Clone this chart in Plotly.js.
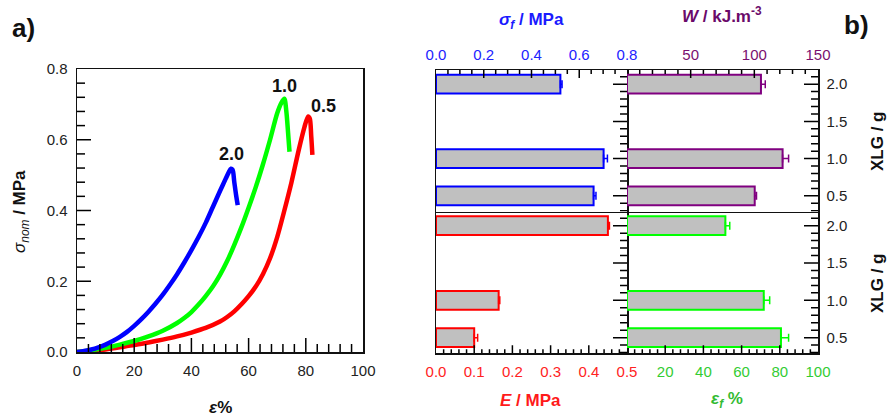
<!DOCTYPE html>
<html>
<head>
<meta charset="utf-8">
<script src="https://cdn.plot.ly/plotly-3.0.1.min.js"></script>
<style>html,body{margin:0;padding:0;background:#fff;}#chart{width:890px;height:417px;}</style>
</head>
<body>
<div id="chart"></div>
<script>
// ---- Panel a): nominal stress-strain curves ----
const strain20 = [0, 2.5, 5, 7.5, 10, 12.5, 15, 17.5, 20, 22.5, 25, 27.5, 30, 32.5, 35, 37.5, 40, 42.5, 45, 47.5, 50, 52, 53, 53.8, 54.4, 55, 55.6, 56.2];
const stress20 = [0, 0.003, 0.007, 0.013, 0.021, 0.031, 0.043, 0.057, 0.074, 0.093, 0.114, 0.137, 0.162, 0.19, 0.22, 0.253, 0.288, 0.325, 0.365, 0.41, 0.455, 0.49, 0.507, 0.518, 0.515, 0.48, 0.445, 0.415];
const strain10 = [0, 5, 10, 15, 20, 25, 30, 35, 37.5, 40, 42.5, 45, 47.5, 50, 52.5, 55, 57.5, 60, 62.5, 65, 67.5, 70, 71.5, 72.5, 73.2, 73.8, 74.3];
const stress10 = [0, 0.005, 0.012, 0.021, 0.031, 0.044, 0.06, 0.082, 0.096, 0.113, 0.134, 0.158, 0.185, 0.218, 0.257, 0.303, 0.353, 0.408, 0.466, 0.53, 0.6, 0.675, 0.705, 0.716, 0.68, 0.62, 0.566];
const strain05 = [0, 5, 10, 15, 20, 25, 30, 35, 40, 45, 50, 52.5, 55, 57.5, 60, 62.5, 65, 67.5, 70, 72.5, 75, 77.5, 79.5, 80.8, 81.4, 81.9, 82.3];
const stress05 = [0, 0.003, 0.007, 0.013, 0.02, 0.027, 0.035, 0.044, 0.055, 0.068, 0.086, 0.099, 0.115, 0.135, 0.158, 0.185, 0.22, 0.265, 0.325, 0.4, 0.48, 0.57, 0.635, 0.666, 0.66, 0.61, 0.557];
const curveLabels = ["2.0", "1.0", "0.5"];
const curveLabelX = [54.1, 72.5, 86.1];
const curveLabelY = [0.56, 0.752, 0.695];

// ---- Panel b): bar data ----
const xlg = [0.5, 1.0, 2.0];
const sigmaF = [0.66, 0.702, 0.521];
const sigmaFErr = [0.01, 0.016, 0.007];
const workW = [100.3, 122.2, 105.2];
const workWErr = [1.4, 4.7, 3.4];
const modulusE = [0.10, 0.164, 0.45];
const modulusEErr = [0.009, 0.003, 0.004];
const strainF = [80.6, 71.6, 51.5];
const strainFErr = [4.0, 3.1, 2.3];

const C_BLUE = '#0000ff', C_PURPLE = '#800080', C_RED = '#ff0000', C_GREEN = '#00ff00';
const AX = '#111';
const FONT = 'Liberation Sans, Arial, sans-serif';
const W = 890, H = 417;

// axis ranges
const rA_x = [0, 100], rA_y = [0, 0.8];
const rSig = [0, 0.8], rW = [0, 150], rE = [0, 0.5], rEps = [0, 100];
const yRange = [0.29, 2.19];

function curve(x, y, color) {
  return {x: x, y: y, xaxis: 'x', yaxis: 'y', type: 'scatter', mode: 'lines',
    line: {color: color, width: 4.5, shape: 'spline', smoothing: 0.8}, hoverinfo: 'skip'};
}
function bars(vals, errs, color, xa, ya) {
  return {type: 'bar', orientation: 'h', x: vals, y: xlg, xaxis: xa, yaxis: ya, width: 0.25,
    marker: {color: '#c0c0c0', line: {color: color, width: 2}},
    error_x: {type: 'data', symmetric: false, array: errs, arrayminus: errs.map(() => 0),
      color: color, thickness: 1.5, width: 4}, hoverinfo: 'skip'};
}

const data = [
  curve(strain05, stress05, C_RED),
  curve(strain10, stress10, C_GREEN),
  curve(strain20, stress20, C_BLUE),
  bars(sigmaF, sigmaFErr, C_BLUE, 'x2', 'y2'),
  bars(workW, workWErr, C_PURPLE, 'x3', 'y3'),
  bars(modulusE, modulusEErr, C_RED, 'x4', 'y4'),
  bars(strainF, strainFErr, C_GREEN, 'x5', 'y5'),
];

// pixel frame of the panels
const A = {l: 77, r: 363, t: 69, b: 352};
const B = {l: 436, m: 627, r: 818, t: 70, mid: 211.5, b: 353.3};
const px = v => v / W, py = v => 1 - v / H;
const topDom = [py(B.mid), py(B.t)];
const botDom = [py(B.b), py(B.mid)];
const leftDom = [px(B.l), px(B.m)];
const rightDom = [px(B.m), px(B.r)];

// ---- tick marks as thin line traces on each subplot (ticks of the axes) ----
const span = r => r[1] - r[0];
function tickTrace(xa, ya, xs, ys) {
  return {type: 'scatter', mode: 'lines', x: xs, y: ys, xaxis: xa, yaxis: ya,
    line: {color: '#000', width: 1.5}, hoverinfo: 'skip', connectgaps: false};
}
// x ticks: positions along x, drawn from the edge yEdge inward by len px
function xTickTrace(xa, ya, xr, step, majorEvery, yEdge, yPerPx, majLen, minLen) {
  const xs = [], ys = [];
  const n = Math.round(span(xr) / step);
  for (let i = 1; i < n; i++) {
    const v = xr[0] + i * step;
    const len = (i % majorEvery === 0) ? majLen : minLen;
    xs.push(v, v, null); ys.push(yEdge, yEdge + len * yPerPx, null);
  }
  return tickTrace(xa, ya, xs, ys);
}
function yTickTrace(xa, ya, yvals, isMajor, xEdge, xPerPx, majLen, minLen) {
  const xs = [], ys = [];
  yvals.forEach(v => {
    const len = isMajor(v) ? majLen : minLen;
    xs.push(xEdge, xEdge + len * xPerPx, null); ys.push(v, v, null);
  });
  return tickTrace(xa, ya, xs, ys);
}
const aYpp = span(rA_y) / (A.b - A.t), aXpp = span(rA_x) / (A.r - A.l);
const topYpp = span(yRange) / (B.mid - B.t), botYpp = span(yRange) / (B.b - B.mid);
const bw = B.m - B.l;
data.push(xTickTrace('x', 'y', rA_x, 4, 5, rA_y[0], aYpp, 14, 8));
const aYv = Array.from({length: 19}, (_, i) => (i + 1) * 0.04);
data.push(yTickTrace('x', 'y', aYv, v => Math.abs(v / 0.2 - Math.round(v / 0.2)) < 1e-6, rA_x[0], aXpp, 14, 8));
data.push(xTickTrace('x2', 'y2', rSig, 0.05, 4, yRange[1], -topYpp, 8, 4));
data.push(xTickTrace('x3', 'y3', rW, 10, 5, yRange[1], -topYpp, 8, 4));
data.push(xTickTrace('x4', 'y4', rE, 0.02, 5, yRange[0], botYpp, 8, 4));
data.push(xTickTrace('x5', 'y5', rEps, 4, 5, yRange[0], botYpp, 8, 4));
const xlgTicks = Array.from({length: 19}, (_, i) => 0.3 + i * 0.1);
const isHalf = v => Math.abs(v * 2 - Math.round(v * 2)) < 1e-6;
data.push(yTickTrace('x2', 'y2', xlgTicks, isHalf, rSig[1], -span(rSig) / bw, 14, 7));
data.push(yTickTrace('x4', 'y4', xlgTicks, isHalf, rE[1], -span(rE) / bw, 14, 7));
data.push(yTickTrace('x3', 'y3', xlgTicks, isHalf, rW[1], -span(rW) / bw, 14, 7));
data.push(yTickTrace('x5', 'y5', xlgTicks, isHalf, rEps[1], -span(rEps) / bw, 14, 7));

function baseAxis(extra) {
  return Object.assign({showline: true, linecolor: AX, linewidth: 1.5, mirror: true,
    showgrid: false, zeroline: false, ticks: '',
    tickfont: {family: FONT, size: 15, color: '#222'}}, extra);
}
function barY(dom, anchor, showLabels, mirror) {
  return baseAxis({domain: dom, anchor: anchor, side: 'right', range: yRange, mirror: mirror,
    tickmode: 'array', tickvals: [0.5, 1.0, 1.5, 2.0], ticktext: ['0.5', '1.0', '1.5', '2.0'],
    showticklabels: showLabels, ticklabelstandoff: 4});
}

const layout = {
  width: W, height: H,
  margin: {l: 0, r: 0, t: 0, b: 0},
  paper_bgcolor: '#fff', plot_bgcolor: 'rgba(0,0,0,0)',
  showlegend: false, bargap: 0,
  font: {family: FONT},
  xaxis: baseAxis({domain: [px(A.l), px(A.r)], anchor: 'y', range: rA_x, dtick: 20, tick0: 0,
    ticklabelstandoff: 4}),
  yaxis: baseAxis({domain: [py(A.b), py(A.t)], anchor: 'x', range: rA_y, dtick: 0.2,
    tick0: 0, tickformat: '.1f', ticklabelstandoff: 5}),
  xaxis2: baseAxis({domain: leftDom, anchor: 'y2', side: 'top', range: rSig, tickmode: 'array',
    tickvals: [0, 0.2, 0.4, 0.6, 0.8], ticktext: ['0.0', '0.2', '0.4', '0.6', '0.8'],
    ticklabelstandoff: 3, tickfont: {family: FONT, size: 15, color: '#2222ff'}}),
  yaxis2: barY(topDom, 'x2', false, true),
  xaxis3: baseAxis({domain: rightDom, anchor: 'y3', side: 'top', range: rW, tickmode: 'array',
    tickvals: [50, 100, 150], ticktext: ['50', '100', '150'],
    ticklabelstandoff: 3, tickfont: {family: FONT, size: 15, color: '#7a1070'}}),
  yaxis3: barY(topDom, 'x3', true, false),
  xaxis4: baseAxis({domain: leftDom, anchor: 'y4', side: 'bottom', range: rE, tickmode: 'array', mirror: false,
    tickvals: [0, 0.1, 0.2, 0.3, 0.4, 0.5], ticktext: ['0.0', '0.1', '0.2', '0.3', '0.4', '0.5'],
    ticklabelstandoff: 4, tickfont: {family: FONT, size: 15, color: '#ff2222'}}),
  yaxis4: barY(botDom, 'x4', false, true),
  xaxis5: baseAxis({domain: rightDom, anchor: 'y5', side: 'bottom', range: rEps, tickmode: 'array', mirror: false,
    tickvals: [20, 40, 60, 80, 100], ticktext: ['20', '40', '60', '80', '100'],
    ticklabelstandoff: 4, tickfont: {family: FONT, size: 15, color: '#33cc33'}}),
  yaxis5: barY(botDom, 'x5', true, false),
  annotations: []
};

// ---- texts ----
for (let i = 0; i < curveLabels.length; i++) {
  layout.annotations.push({xref: 'x', yref: 'y', x: curveLabelX[i], y: curveLabelY[i],
    text: '<b>' + curveLabels[i] + '</b>', showarrow: false,
    font: {family: FONT, size: 18, color: '#111'}});
}
function paperText(x, y, text, size, color, angle) {
  layout.annotations.push({xref: 'paper', yref: 'paper', x: px(x), y: py(y),
    xanchor: 'center', yanchor: 'middle', text: text, showarrow: false, textangle: angle || 0,
    font: {family: FONT, size: size, color: color}});
}
paperText(23, 28, '<b>a)</b>', 26, '#111');
paperText(856, 25, '<b>b)</b>', 26, '#111');
paperText(21, 212, '<i>σ</i><sub><i>nom</i></sub><b> / MPa</b>', 17, '#111', -90);
paperText(220, 407, '<b><i>ε</i>%</b>', 17, '#111');
paperText(531, 21, '<b><i>σ</i><sub><i>f</i></sub> / MPa</b>', 17, '#1a1aff');
paperText(722, 15, '<b><i>W</i> / kJ.m<sup>-3</sup></b>', 17, '#6a0a6a');
paperText(530, 400, '<b><i>E</i> / MPa</b>', 17, '#ff1a1a');
paperText(727, 400, '<b><i>ε</i><sub><i>f</i></sub> %</b>', 17, '#33bb33');
paperText(877, 141, '<b>XLG / g</b>', 17, '#111', -90);
paperText(877, 283, '<b>XLG / g</b>', 17, '#111', -90);

Plotly.newPlot('chart', data, layout, {staticPlot: true, displayModeBar: false});
</script>
</body>
</html>
